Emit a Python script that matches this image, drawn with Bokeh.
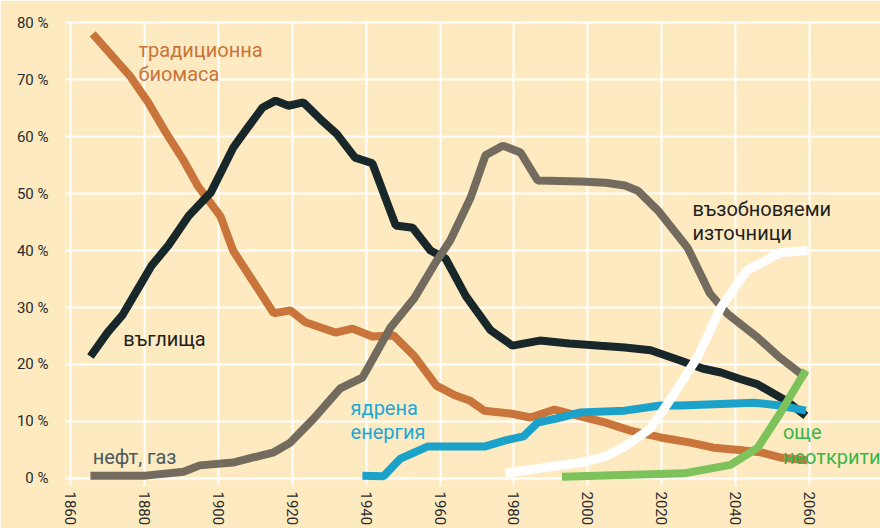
import math
from bokeh.plotting import figure
from bokeh.models import Range1d, FixedTicker, Label
from bokeh.embed import file_html
from bokeh.resources import INLINE

BG = "#FDEAC0"

# ---- data (share of world energy, %) ----
bio_years = [1866, 1876, 1881, 1886, 1890.6, 1894.4, 1900.6, 1904, 1909, 1915, 1919.5, 1923.6,
             1927.7, 1931.7, 1936.3, 1941.7, 1947.4, 1953, 1959, 1964, 1968, 1972, 1979, 1984.5,
             1991, 1998, 2004.8, 2011.5, 2019.7, 2027.8, 2034, 2041, 2046.7, 2052, 2059.5]
bio_vals = [78, 70.7, 66, 60.5, 55.8, 51.4, 46, 40, 35, 29, 29.5, 27.4,
            26.5, 25.6, 26.3, 24.9, 25.1, 21.5, 16.3, 14.6, 13.7, 11.9, 11.4, 10.7,
            12.1, 10.9, 9.8, 8.4, 7.2, 6.3, 5.4, 5.0, 4.6, 3.7, 3.2]

coal_years = [1865.4, 1870, 1874, 1878, 1882, 1886.5, 1892, 1898, 1904, 1908, 1912, 1915.5,
              1919, 1923, 1927.7, 1932, 1937, 1941.7, 1948, 1952.6, 1957.4, 1961.5, 1967,
              1973.7, 1979.6, 1987, 1995, 2003.4, 2010, 2017, 2025, 2031, 2036, 2041, 2046,
              2054, 2059]
coal_vals = [21.4, 25.6, 28.6, 33, 37.4, 40.9, 46.1, 50.2, 58, 61.6, 65.1, 66.3,
             65.4, 66, 63, 60.5, 56.3, 55.3, 44.4, 44, 40, 38.6, 32,
             26, 23.3, 24.2, 23.7, 23.3, 23, 22.5, 20.7, 19.3, 18.6, 17.5, 16.5,
             13.5, 11]

oil_years = [1865.4, 1880.3, 1890.6, 1895, 1904, 1915, 1919.5, 1925.8, 1933, 1939, 1946.6,
             1953, 1958.8, 1962.8, 1968.3, 1972.3, 1977, 1981.8, 1986.4, 1998, 2004.8, 2010,
             2013.5, 2019, 2027, 2033, 2037.8, 2046, 2052, 2059]
oil_vals = [0.5, 0.5, 1.2, 2.3, 2.8, 4.6, 6.3, 10.5, 15.8, 17.7, 26.5,
            31.6, 37.9, 41.8, 49.3, 56.7, 58.4, 57.2, 52.3, 52.1, 51.9, 51.4,
            50.5, 47, 40.5, 32.5, 28.9, 24.7, 21.2, 17.7]

nuc_years = [1939, 1944.7, 1949.3, 1956.6, 1972, 1977.7, 1982.6, 1986.4, 1992.6, 1998, 2010,
             2019.7, 2025, 2045, 2052, 2059]
nuc_vals = [0.5, 0.4, 3.5, 5.6, 5.6, 6.7, 7.4, 9.8, 10.7, 11.6, 11.9,
            12.8, 12.8, 13.3, 12.8, 11.9]

ren_years = [1977.7, 1987, 1998, 2004.8, 2010, 2017, 2023, 2029.7, 2036, 2043, 2052, 2059.4]
ren_vals = [0.9, 1.8, 2.8, 3.9, 5.6, 8.8, 14.5, 21.3, 30, 36.5, 39.6, 40]

new_years = [1993, 2026, 2038.6, 2046, 2052, 2059]
new_vals = [0.3, 0.9, 2.4, 5.4, 11.4, 19]

x_ticks = [1860, 1880, 1900, 1920, 1940, 1960, 1980, 2000, 2020, 2040, 2060]
y_ticks = [0, 10, 20, 30, 40, 50, 60, 70, 80]
y_tick_labels = ["0 %", "10 %", "20 %", "30 %", "40 %", "50 %", "60 %", "70 %", "80 %"]

# ---- figure ----
p = figure(width=880, height=528, output_backend="svg", toolbar_location=None,
           x_range=Range1d(1858.65, 2079.2), y_range=Range1d(-1.23, 80.18),
           min_border_left=65, min_border_right=0, min_border_top=21, min_border_bottom=43)
p.background_fill_color = BG
p.border_fill_color = BG
p.outline_line_color = None

p.xgrid.ticker = FixedTicker(ticks=x_ticks)
p.ygrid.ticker = FixedTicker(ticks=y_ticks)
for g in (p.xgrid, p.ygrid):
    g.grid_line_color = "white"
    g.grid_line_width = 2

p.xaxis.ticker = FixedTicker(ticks=x_ticks)
p.yaxis.ticker = FixedTicker(ticks=y_ticks)
p.yaxis.major_label_overrides = {t: s for t, s in zip(y_ticks, y_tick_labels)}
for ax in (p.xaxis, p.yaxis):
    ax.axis_line_color = None
    ax.major_tick_line_color = None
    ax.minor_tick_line_color = None
    ax.major_tick_out = 0
    ax.major_tick_in = 0
    ax.minor_tick_out = 0
    ax.major_label_text_font = "Roboto"
    ax.major_label_text_font_size = "15px"
    ax.major_label_text_color = "#2b2b2b"
p.xaxis.major_label_orientation = -math.pi / 2
p.xaxis.major_label_standoff = 6
p.yaxis.major_label_standoff = 17

LW = 8
p.line(bio_years, bio_vals, line_color="#C8743A", line_width=LW)
p.line(coal_years, coal_vals, line_color="#18272A", line_width=LW)
p.line(oil_years, oil_vals, line_color="#736B5E", line_width=LW)
p.line(nuc_years, nuc_vals, line_color="#1AA2CA", line_width=LW)
p.line(ren_years, ren_vals, line_color="#FFFFFF", line_width=LW + 1)
p.line(new_years, new_vals, line_color="#7DC25B", line_width=LW)

labels = [
    ("традиционна", 1878.4, 75.1, "#C8743A"),
    ("биомаса", 1878.4, 71.05, "#C8743A"),
    ("въглища", 1874.3, 24.4, "#1f1f1f"),
    ("нефт, газ", 1866.0, 3.7, "#4C5B61"),
    ("ядрена", 1935.8, 12.3, "#1BA8D8"),
    ("енергия", 1935.8, 8.1, "#1BA8D8"),
    ("възобновяеми", 2028.3, 47.2, "#1f1f1f"),
    ("източници", 2028.3, 43.0, "#1f1f1f"),
    ("още", 2052.8, 8.1, "#3AB54A"),
    ("неоткрити", 2052.8, 3.7, "#3AB54A"),
]
for txt, lx, ly, col in labels:
    p.add_layout(Label(x=lx, y=ly, text=txt, text_color=col, text_font="Roboto",
                       text_font_size="20px", text_baseline="alphabetic", text_align="left"))

html = file_html(p, INLINE)
html = html.replace("<body>", '<body style="background:%s">' % BG, 1)
open("out.html", "w").write(html)
